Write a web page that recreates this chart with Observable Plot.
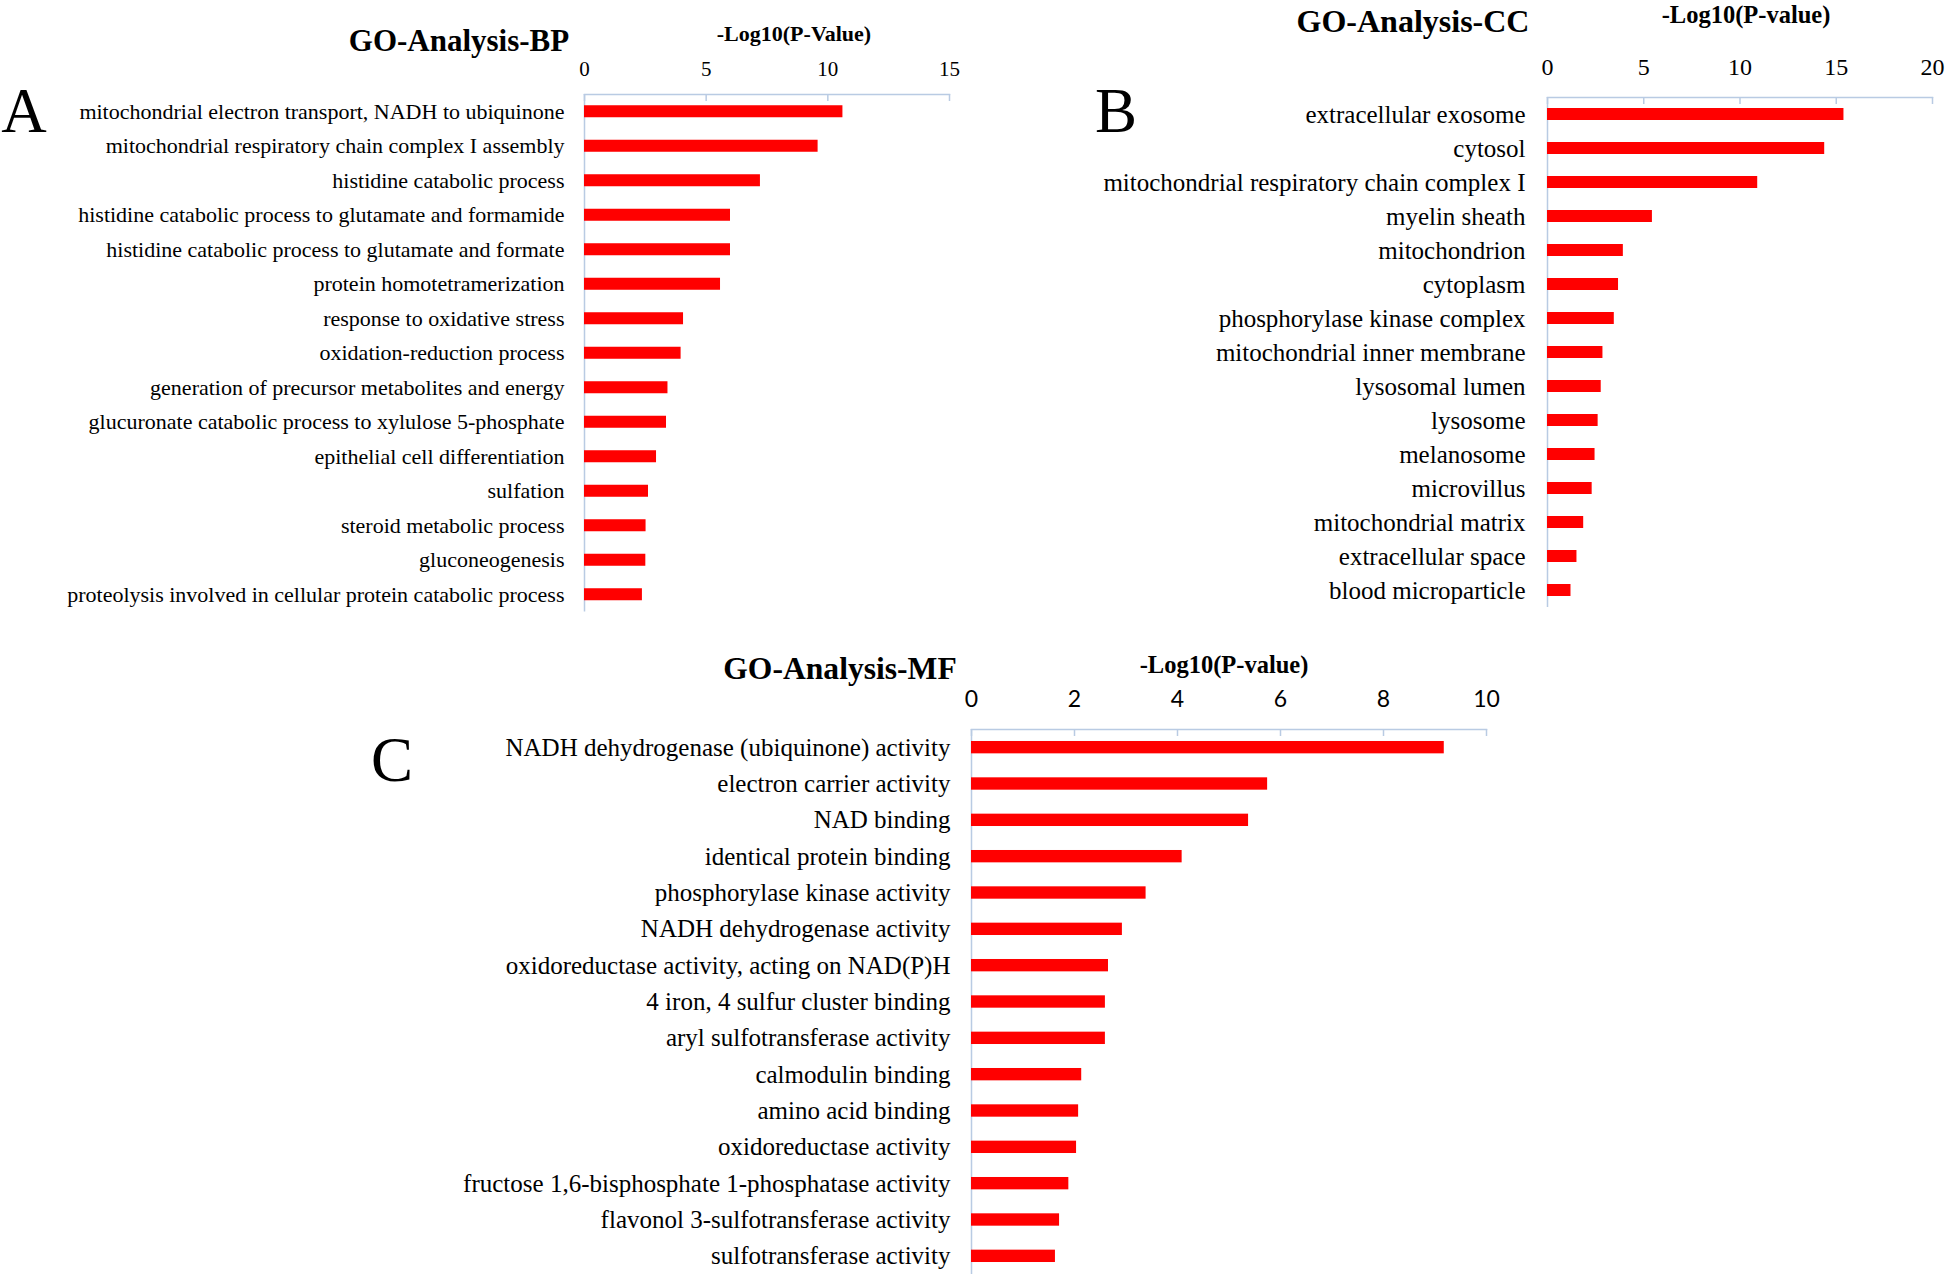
<!DOCTYPE html>
<html><head><meta charset="utf-8">
<script src="https://cdn.jsdelivr.net/npm/d3@7"></script>
<script src="https://cdn.jsdelivr.net/npm/@observablehq/plot@0.6"></script>
<style>
html,body{margin:0;padding:0;background:#fff;}
#page{position:relative;width:1946px;height:1274px;overflow:hidden;font-family:'Liberation Serif','Times New Roman',serif;color:#000;}
.abs{position:absolute;white-space:nowrap;line-height:1;transform:translate(-50%,-50%);}
.bold{font-weight:bold;}
.panel{position:absolute;}
.panel svg{overflow:visible;}
</style></head><body><div id="page"></div>
<script>
// ---- Data ----
const bpTerms = [
  "mitochondrial electron transport, NADH to ubiquinone",
  "mitochondrial respiratory chain complex I assembly",
  "histidine catabolic process",
  "histidine catabolic process to glutamate and formamide",
  "histidine catabolic process to glutamate and formate",
  "protein homotetramerization",
  "response to oxidative stress",
  "oxidation-reduction process",
  "generation of precursor metabolites and energy",
  "glucuronate catabolic process to xylulose 5-phosphate",
  "epithelial cell differentiation",
  "sulfation",
  "steroid metabolic process",
  "gluconeogenesis",
  "proteolysis involved in cellular protein catabolic process"
];
const bpValues = [10.62, 9.6, 7.23, 6.0, 6.0, 5.59, 4.07, 3.97, 3.43, 3.37, 2.96, 2.63, 2.53, 2.52, 2.38];
const bpTicks = [0, 5, 10, 15];

const ccTerms = [
  "extracellular exosome",
  "cytosol",
  "mitochondrial respiratory chain complex I",
  "myelin sheath",
  "mitochondrion",
  "cytoplasm",
  "phosphorylase kinase complex",
  "mitochondrial inner membrane",
  "lysosomal lumen",
  "lysosome",
  "melanosome",
  "microvillus",
  "mitochondrial matrix",
  "extracellular space",
  "blood microparticle"
];
const ccValues = [15.4, 14.4, 10.92, 5.45, 3.94, 3.69, 3.47, 2.88, 2.79, 2.63, 2.47, 2.32, 1.88, 1.53, 1.22];
const ccTicks = [0, 5, 10, 15, 20];

const mfTerms = [
  "NADH dehydrogenase (ubiquinone) activity",
  "electron carrier activity",
  "NAD binding",
  "identical protein binding",
  "phosphorylase kinase activity",
  "NADH dehydrogenase activity",
  "oxidoreductase activity, acting on NAD(P)H",
  "4 iron, 4 sulfur cluster binding",
  "aryl sulfotransferase activity",
  "calmodulin binding",
  "amino acid binding",
  "oxidoreductase activity",
  "fructose 1,6-bisphosphate 1-phosphatase activity",
  "flavonol 3-sulfotransferase activity",
  "sulfotransferase activity"
];
const mfValues = [9.18, 5.75, 5.38, 4.09, 3.39, 2.93, 2.66, 2.6, 2.6, 2.14, 2.08, 2.04, 1.89, 1.71, 1.63];
const mfTicks = [0, 2, 4, 6, 8, 10];

const titles = ["GO-Analysis-BP", "GO-Analysis-CC", "GO-Analysis-MF"];
const axisLabels = ["-Log10(P-Value)", "-Log10(P-value)", "-Log10(P-value)"];
const letters = ["A", "B", "C"];

// ---- Drawing ----
const SERIF = "'Liberation Serif','Times New Roman',serif";
const AXIS = "#b9cbe3";
const page = document.getElementById("page");

function addText(txt, x, y, size, cls) {
  const d = document.createElement("div");
  d.className = "abs " + (cls || "");
  d.style.left = x + "px"; d.style.top = y + "px"; d.style.fontSize = size + "px";
  d.textContent = txt;
  page.appendChild(d);
}

function panel(o) {
  const data = o.terms.map((t, i) => ({term: t, value: o.values[i]}));
  const fh = o.height - o.mTop - o.mBottom;
  const chart = Plot.plot({
    width: o.width, height: o.height,
    marginLeft: o.mLeft, marginRight: o.mRight, marginTop: o.mTop, marginBottom: o.mBottom,
    style: {fontFamily: SERIF, color: "#000", background: "transparent", overflow: "visible"},
    x: {domain: [0, o.ticks[o.ticks.length - 1]]},
    y: {domain: o.terms, paddingInner: o.pad, paddingOuter: o.pad / 2, round: false},
    marks: [
      Plot.ruleX([0], {stroke: AXIS, strokeWidth: 1.5}),
      Plot.frame({anchor: "top", stroke: AXIS, strokeWidth: 1.5}),
      Plot.ruleX(o.ticks, {x: d => d, stroke: AXIS, strokeWidth: 1.5, insetBottom: fh - 7}),
      Plot.barX(data, {x: "value", y: "term", fill: "#ff0000"}),
      Plot.axisX(o.ticks, {anchor: "top", tickSize: 0, tickPadding: o.tickPad, fontSize: o.tickFont, fontFamily: o.tickFamily || SERIF, label: null}),
      Plot.axisY({tickSize: 0, tickPadding: o.labelPad, fontSize: o.labelFont, fontFamily: SERIF, label: null})
    ]
  });
  const wrap = document.createElement("div");
  wrap.className = "panel";
  wrap.style.left = o.left + "px"; wrap.style.top = o.top + "px";
  wrap.appendChild(chart);
  page.appendChild(wrap);
}

panel({terms: bpTerms, values: bpValues, ticks: bpTicks,
  left: 0, top: 0, width: 980, height: 640,
  mLeft: 584, mRight: 31, mTop: 94, mBottom: 640 - 94 - 517.5,
  pad: 0.652, tickPad: 19, tickFont: 21, labelPad: 20, labelFont: 22});

panel({terms: ccTerms, values: ccValues, ticks: ccTicks,
  left: 1000, top: 0, width: 946, height: 640,
  mLeft: 547, mRight: 14, mTop: 97, mBottom: 640 - 97 - 510,
  pad: 0.647, tickPad: 23, tickFont: 24, labelPad: 22, labelFont: 25});

panel({terms: mfTerms, values: mfValues, ticks: mfTicks,
  left: 340, top: 640, width: 1200, height: 634,
  mLeft: 631, mRight: 54, mTop: 89, mBottom: 0,
  pad: 0.66, tickPad: 23, tickFont: 23, tickFamily: "Lato, 'Open Sans', sans-serif", labelPad: 21, labelFont: 25});

addText(titles[0], 459, 40, 31, "bold");
addText(axisLabels[0], 794, 34, 22, "bold");
addText(letters[0], 24, 111, 63);

addText(titles[1], 1413, 21, 32, "bold");
addText(axisLabels[1], 1746, 15, 24.5, "bold");
addText(letters[1], 1116, 111, 63);

addText(titles[2], 840, 669, 31.6, "bold");
addText(axisLabels[2], 1224, 665, 24.5, "bold");
addText(letters[2], 392, 760, 63);
</script></body></html>
